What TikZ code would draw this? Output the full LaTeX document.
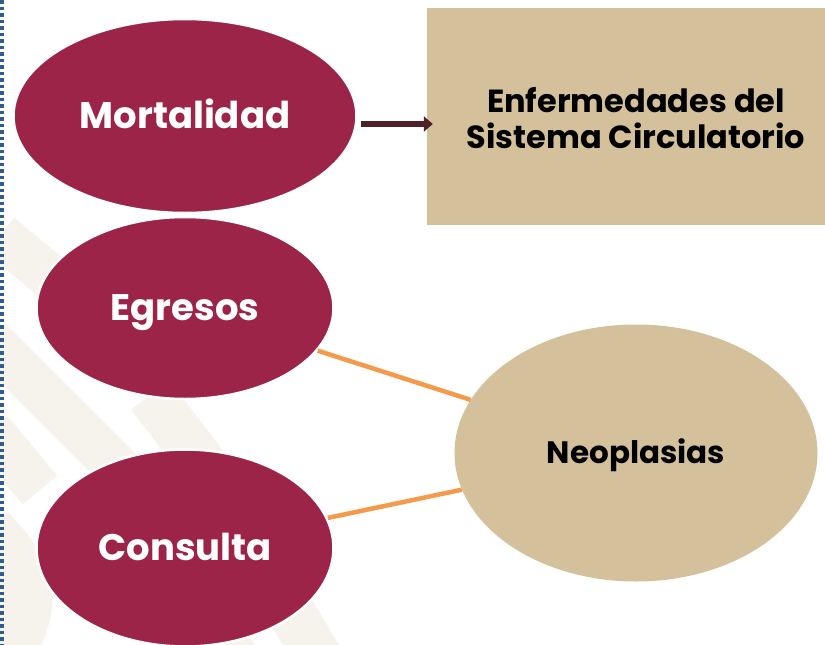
\documentclass[tikz,border=0pt]{standalone}
\usepackage{fontspec}
\setmainfont{Poppins}
\usetikzlibrary{shapes.geometric,arrows.meta}
\definecolor{guinda}{HTML}{9D2449}
\definecolor{arena}{HTML}{D4C19C}
\definecolor{naranja}{HTML}{F5994A}
\definecolor{flecha}{HTML}{4E2129}
\definecolor{marca}{HTML}{F6F3EC}
\definecolor{borde}{HTML}{2F5D8F}
\tikzset{
  oval/.style={ellipse, fill=guinda, draw=white, line width=2.5pt, text=white, font=\bfseries\fontsize{37}{40}\selectfont, inner sep=0pt, text height=24pt, text depth=0pt},
  ovalb/.style={ellipse, fill=arena, draw=none, text=black, font=\bfseries\fontsize{31}{34}\selectfont, inner sep=0pt, text height=20pt, text depth=0pt},
  caja/.style={rectangle, fill=arena, draw=none, text=black, inner sep=0pt},
  cajatexto/.style={text=black, font=\bfseries\fontsize{32}{36}\selectfont, align=center, inner sep=0pt},
  enlace/.style={draw=naranja, line width=4.5pt},
  stripe/.style={draw=marca, line width=45pt},
}
\begin{document}
\begin{tikzpicture}[x=1pt,y=-1pt]
\useasboundingbox (0,0) rectangle (825,645);
\fill[white] (0,0) rectangle (825,645);
\begin{scope}
\clip (0,0) rectangle (825,645);
\draw[stripe] (0,235) -- (60,285);
\draw[stripe] (-10,340) -- (120,470);
\draw[stripe,line width=48pt] (150,395) -- (200,460) -- (320,660);
\draw[stripe] (-10,430) -- (40,490);
\draw[stripe,line width=50pt] (-10,530) .. controls (30,570) and (40,600) .. (10,650);
\draw[stripe,line width=25pt] (230,630) -- (250,660);
\end{scope}
\draw[borde, line width=4pt, dash pattern=on 3.5pt off 3pt] (2,0) -- (2,645);
\node[oval, minimum width=343pt, minimum height=194pt] (mort) at (185,116) {Mortalidad};
\node[oval, minimum width=297pt, minimum height=182pt] (egr) at (185,308) {Egresos};
\node[oval, minimum width=297pt, minimum height=197pt] (cons) at (185,548) {Consulta};
\node[ovalb, minimum width=363pt, minimum height=257pt] (neo) at (636,453) {Neoplasias};
\node[caja, minimum width=398pt, minimum height=217pt] (enf) at (626,116.5) {};
\node[cajatexto] (enft) at (636,118) {Enfermedades del\\Sistema Circulatorio};
\draw[flecha, line width=6pt, -{Triangle[length=9pt,width=15pt]}] (mort.east) ++(3,8) coordinate (a0) -- ([xshift=6pt]enf.west |- a0);
\draw[enlace] (egr) -- (neo);
\draw[enlace] (cons) -- (neo);
\end{tikzpicture}
\end{document}
